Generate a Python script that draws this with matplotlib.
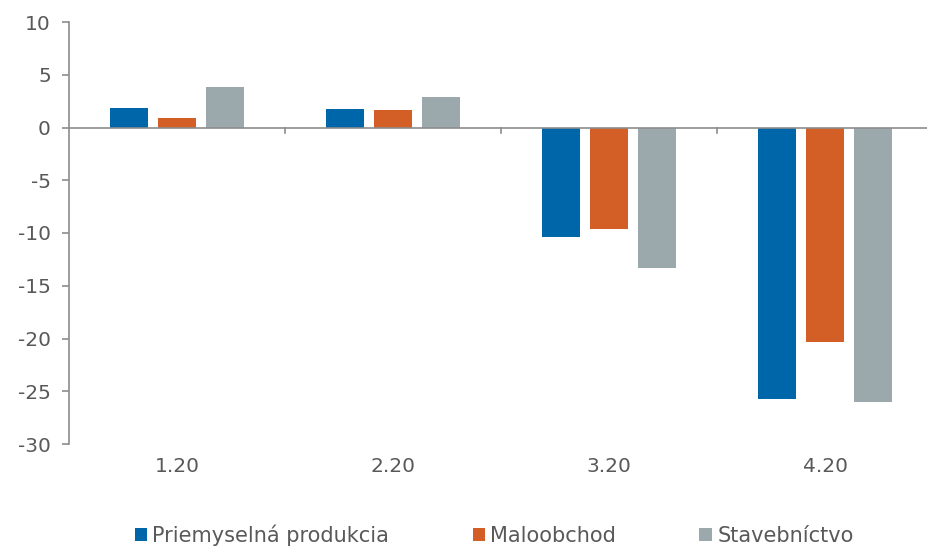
import matplotlib
matplotlib.use("Agg")
import matplotlib.pyplot as plt
import numpy as np
from matplotlib.patches import Patch

categories = ["1.20", "2.20", "3.20", "4.20"]
series_names = ["Priemyselná produkcia", "Maloobchod", "Stavebníctvo"]
priemysel = [1.87, 1.80, -10.35, -25.7]
maloobchod = [0.86, 1.62, -9.65, -20.3]
stavebnictvo = [3.83, 2.89, -13.3, -26.0]
yticks = [10, 5, 0, -5, -10, -15, -20, -25, -30]

colors = ["#0066AA", "#D35F27", "#9BA9AD"]
text_color = "#595959"
axis_color = "#8C8C8C"

plt.rcParams['font.family'] = ['DejaVu Sans']
fs = 14.5

fig = plt.figure(figsize=(9.27, 5.48), dpi=100)
ax = fig.add_axes([69/927, (548-444)/548, 864/927, (444-22)/548])

x = np.arange(len(categories))
w = 0.176
step = 0.222
for i, (vals, c) in enumerate(zip([priemysel, maloobchod, stavebnictvo], colors)):
    ax.bar(x + (i-1)*step, vals, width=w, color=c, zorder=2)

ax.set_xlim(-0.5, len(categories)-0.5)
ax.set_ylim(-30, 10)
ax.set_yticks(yticks)
ax.set_yticklabels([str(t) for t in yticks], fontsize=fs, color=text_color)
ax.tick_params(axis='y', direction='out', length=5, color=axis_color, width=1.2, pad=8)

for s in ["top", "right", "bottom"]:
    ax.spines[s].set_visible(False)
ax.spines["left"].set_color(axis_color)
ax.spines["left"].set_linewidth(1.2)
ax.axhline(0, color=axis_color, lw=1.2, zorder=3)

ax.set_xticks([])
for b in [0.5, 1.5, 2.5]:
    ax.plot([b, b], [0, -0.5], color=axis_color, lw=1.2, clip_on=False, zorder=3)
for xi, lab in zip(x, categories):
    ax.text(xi, -32.1, lab, ha='center', va='center', fontsize=fs, color=text_color, clip_on=False)

handles = [Patch(facecolor=c, edgecolor='none') for c in colors]
fig.legend(handles, series_names, loc='lower center', bbox_to_anchor=(0.533, -0.03), ncol=3,
           frameon=False, fontsize=15, labelcolor=text_color, handlelength=0.6, handleheight=0.6,
           handletextpad=0.25, columnspacing=4.0)

fig.savefig("out.png", dpi=100)
